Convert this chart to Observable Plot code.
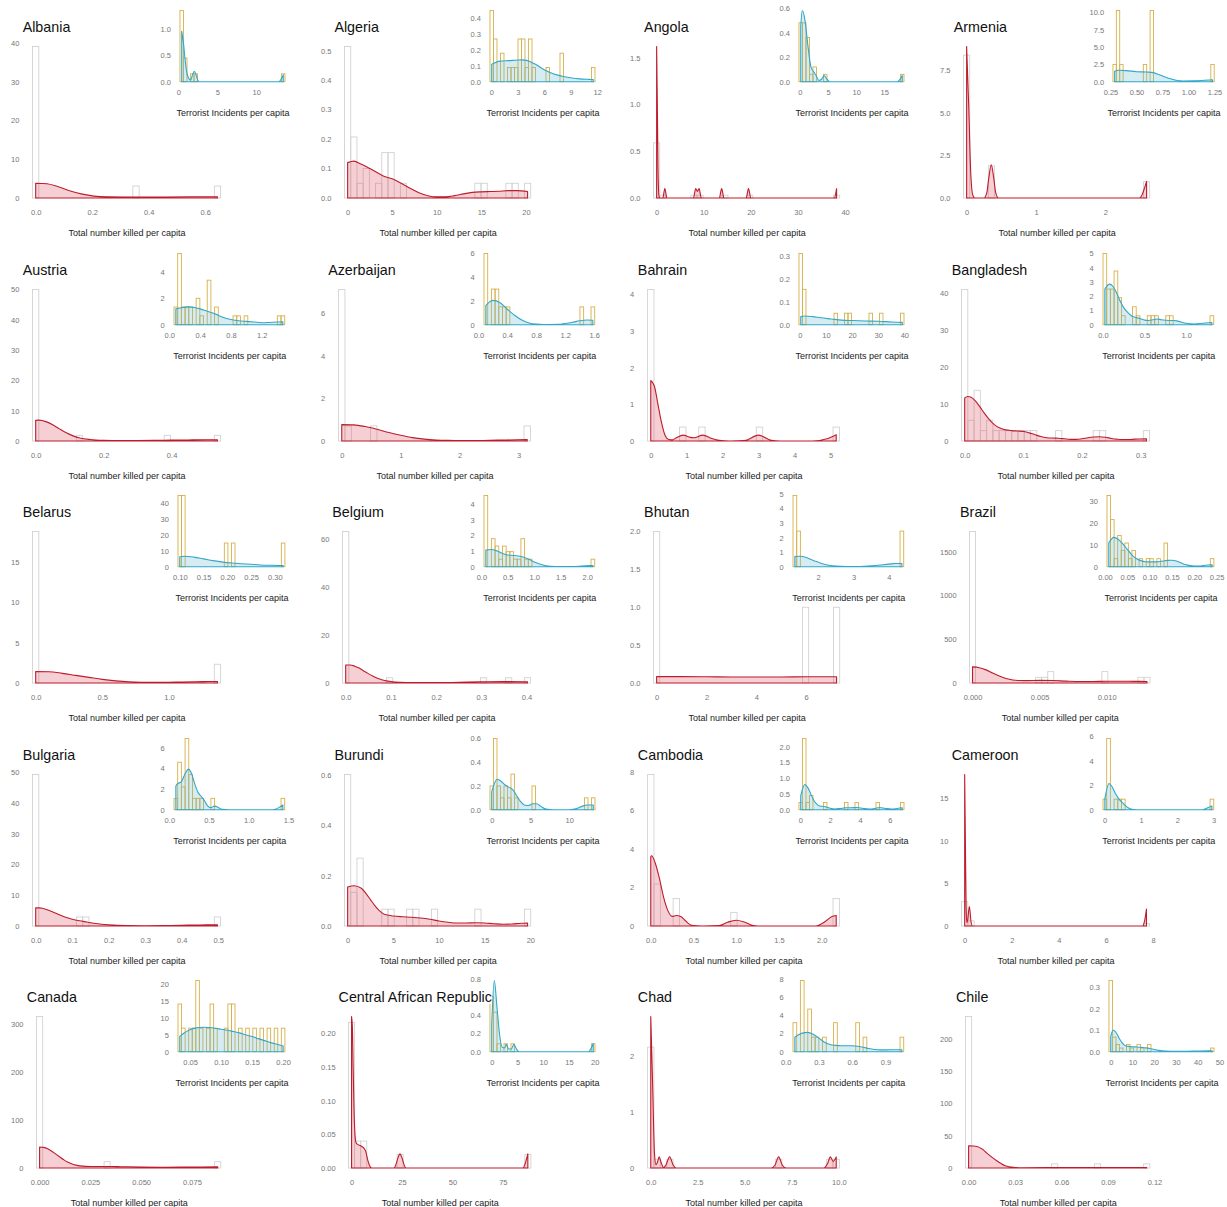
<!DOCTYPE html>
<html>
<head>
<meta charset="utf-8">
<script src="https://cdn.jsdelivr.net/npm/d3@7"></script>
<script src="https://cdn.jsdelivr.net/npm/@observablehq/plot@0.6"></script>
<style>
  html, body { margin: 0; padding: 0; background: white; overflow: hidden; }
  #root { position: relative; width: 1227px; height: 1207px; overflow: hidden; font-family: "Liberation Sans", Arial, sans-serif; }
  .panel { position: absolute; width: 310px; height: 243px; }
  .panel svg { position: absolute; left: 0; top: 0; }
  .ttl { position: absolute; font-size: 14.3px; line-height: 1; white-space: nowrap; color: #111; background: white; z-index: 5; }
</style>
</head>
<body>
<div id="root"></div>
<script>
const countries = ["Albania","Algeria","Angola","Armenia","Austria","Azerbaijan","Bahrain","Bangladesh","Belarus","Belgium","Bhutan","Brazil","Bulgaria","Burundi","Cambodia","Cameroon","Canada","Central African Republic","Chad","Chile"];

// ---- Total number killed per capita (main histograms) ----
const killedRange = [[0,0.6435],[0,20.19],[0,38.2],[0,2.594],[0,0.535],[0,3.146],[0,5.16],[0,0.31],[0,1.364],[0,0.402],[0,7.22],[0,0.013],[0,0.498],[0,19.7],[0,2.17],[0,7.72],[0,0.0877],[0,87.4],[0,9.86],[0,0.115]];

const killedBars = [
  [[0,39.1],[16,3.1],[29,3.1]],
  [[0,0.514],[1,0.207],[2,0.05],[3,0.1],[5,0.05],[6,0.154],[7,0.154],[9,0.05],[21,0.05],[22,0.05],[26,0.05],[27,0.05],[29,0.05]],
  [[0,0.59],[1,0.03],[6,0.03],[7,0.03],[11,0.03],[15,0.03],[29,0.03]],
  [[0,8.39],[4,1.89],[29,0.96]],
  [[0,50],[7,1.87],[21,1.87],[29,1.87]],
  [[0,7.13],[1,0.71],[5,0.71],[29,0.71]],
  [[0,4.13],[5,0.38],[8,0.38],[17,0.38],[29,0.38]],
  [[0,40.9],[1,5.6],[2,13.7],[3,2.8],[4,5.6],[5,2.8],[6,2.8],[7,2.8],[8,2.8],[9,2.8],[10,2.8],[11,2.8],[15,2.8],[21,2.8],[22,2.8],[29,2.8]],
  [[0,18.8],[29,2.33]],
  [[0,63],[7,2.2],[22,2.2],[26,2.2],[29,2.2]],
  [[0,2.0],[24,1.0],[29,1.0]],
  [[0,1730],[11,65],[12,65],[13,130],[22,130],[28,65],[29,65]],
  [[0,49.2],[7,2.94],[8,2.94],[29,2.94]],
  [[0,0.603],[1,0.134],[2,0.27],[6,0.067],[7,0.067],[10,0.067],[11,0.067],[14,0.067],[21,0.067],[29,0.067]],
  [[0,7.87],[1,2.18],[4,1.43],[13,0.71],[29,1.43]],
  [[0,2.86],[1,0.6],[29,0.28]],
  [[0,316],[11,13.2],[29,13.2]],
  [[0,0.216],[1,0.04],[2,0.04],[8,0.02],[29,0.02]],
  [[0,2.17],[1,0.157],[3,0.157],[20,0.157],[28,0.157],[29,0.157]],
  [[0,235],[14,6.5],[21,6.5],[29,6.5]]
];

const killedDensity = [
  [[0,3.8],[0.04,3.7],[0.08,2.9],[0.12,1.9],[0.165,1.0],[0.206,0.5],[0.25,0.3],[0.35,0.27],[0.46,0.28],[0.58,0.32],[0.6435,0.33]],
  [[0,0.12],[0.7,0.125],[1.5,0.115],[2.5,0.1],[4,0.075],[5,0.065],[6,0.05],[7,0.033],[8,0.018],[9,0.008],[10,0.004],[11,0.004],[12,0.008],[13,0.014],[14,0.019],[15,0.021],[16,0.022],[17,0.023],[18,0.025],[19,0.025],[20.19,0.022]],
  [[0,1.62],[0.15,1.0],[0.3,0.3],[0.5,0.02],[0.7,0],[1.3,0],[1.74,0.1],[2.2,0],[7.8,0],[8.3,0.1],[8.65,0.07],[9.0,0.1],[9.5,0],[13.3,0],[13.8,0.1],[14.3,0],[19.0,0],[19.5,0.1],[20.0,0],[37.7,0],[38.2,0.1]],
  [[0,8.9],[0.03,5.4],[0.06,1.4],[0.09,0.15],[0.12,0],[0.25,0],[0.29,0.3],[0.32,1.2],[0.355,1.95],[0.39,1.2],[0.42,0.3],[0.46,0],[2.49,0],[2.53,0.2],[2.565,0.6],[2.594,0.97]],
  [[0,6.8],[0.01,6.9],[0.03,6.4],[0.05,5.4],[0.07,4.0],[0.09,2.7],[0.11,1.7],[0.13,1.0],[0.16,0.5],[0.2,0.25],[0.25,0.18],[0.3,0.18],[0.35,0.22],[0.4,0.3],[0.45,0.36],[0.5,0.4],[0.535,0.4]],
  [[0,0.77],[0.2,0.76],[0.4,0.68],[0.6,0.55],[0.8,0.4],[1.0,0.27],[1.2,0.16],[1.4,0.09],[1.6,0.05],[1.8,0.03],[2.0,0.02],[2.4,0.025],[2.8,0.05],[3.146,0.07]],
  [[0,1.65],[0.1,1.5],[0.2,1.0],[0.3,0.5],[0.4,0.15],[0.5,0.04],[0.6,0.03],[0.7,0.08],[0.9,0.16],[1.1,0.1],[1.2,0.09],[1.45,0.16],[1.7,0.07],[1.9,0.02],[2.2,0],[2.6,0.01],[3.0,0.16],[3.35,0.02],[3.6,0],[4.5,0],[4.9,0.06],[5.16,0.17]],
  [[0,11.6],[0.005,12.0],[0.01,11.9],[0.02,10.5],[0.03,8.3],[0.04,6.2],[0.05,4.5],[0.06,3.5],[0.07,3.0],[0.08,2.8],[0.09,2.7],[0.1,2.6],[0.11,2.2],[0.12,1.7],[0.13,1.2],[0.14,0.9],[0.15,0.8],[0.16,0.75],[0.17,0.6],[0.18,0.45],[0.19,0.45],[0.2,0.6],[0.21,0.9],[0.22,1.1],[0.23,1.15],[0.24,1.0],[0.25,0.7],[0.26,0.5],[0.27,0.4],[0.28,0.4],[0.29,0.5],[0.31,0.6]],
  [[0,1.42],[0.1,1.4],[0.2,1.2],[0.3,0.95],[0.4,0.7],[0.5,0.45],[0.6,0.27],[0.7,0.15],[0.8,0.1],[0.9,0.08],[1.0,0.1],[1.1,0.13],[1.2,0.16],[1.3,0.18],[1.364,0.19]],
  [[0,7.5],[0.01,7.5],[0.02,7.0],[0.03,6.2],[0.04,5.0],[0.05,3.9],[0.06,2.9],[0.07,2.0],[0.08,1.4],[0.09,0.9],[0.1,0.6],[0.12,0.3],[0.15,0.15],[0.2,0.15],[0.25,0.3],[0.3,0.5],[0.35,0.6],[0.402,0.5]],
  [[0,0.085],[1,0.085],[2,0.083],[3,0.08],[4,0.079],[5,0.08],[6,0.082],[7.22,0.083]],
  [[0,184],[0.0005,175],[0.001,150],[0.0015,115],[0.002,80],[0.0025,52],[0.003,35],[0.0035,28],[0.004,27],[0.005,30],[0.006,28],[0.007,22],[0.008,18],[0.009,18],[0.01,20],[0.011,20],[0.012,19],[0.013,18]],
  [[0,5.9],[0.01,5.9],[0.02,5.7],[0.04,4.9],[0.06,3.9],[0.08,2.9],[0.1,2.2],[0.12,1.7],[0.14,1.3],[0.16,0.9],[0.18,0.6],[0.2,0.4],[0.25,0.15],[0.3,0.1],[0.35,0.15],[0.4,0.25],[0.45,0.35],[0.498,0.4]],
  [[0,0.155],[0.7,0.16],[1.5,0.15],[2,0.13],[2.5,0.105],[3,0.08],[3.5,0.06],[4,0.047],[5,0.04],[6,0.037],[7,0.035],[8,0.032],[9,0.027],[10,0.02],[11,0.015],[12,0.012],[13,0.012],[14,0.013],[15,0.012],[16,0.009],[17,0.007],[18,0.008],[19,0.011],[19.7,0.012]],
  [[0,3.6],[0.01,3.65],[0.05,3.3],[0.1,2.5],[0.15,1.5],[0.2,0.8],[0.25,0.5],[0.3,0.55],[0.35,0.5],[0.4,0.3],[0.45,0.1],[0.5,0.02],[0.6,0],[0.8,0.02],[0.9,0.2],[1.0,0.3],[1.1,0.2],[1.2,0.03],[1.3,0],[1.93,0],[2.03,0.2],[2.12,0.5],[2.17,0.55]],
  [[0,17.8],[0.03,10],[0.06,2.5],[0.09,0.4],[0.12,0.6],[0.2,2.3],[0.27,0.5],[0.33,0],[7.55,0],[7.64,0.6],[7.72,2.0]],
  [[0,43.75],[0.002,43],[0.004,40],[0.006,35],[0.008,29],[0.01,23],[0.012,17],[0.014,12],[0.016,8.5],[0.018,6],[0.02,4.5],[0.025,3.2],[0.03,3.3],[0.035,3.2],[0.04,2.8],[0.05,2.0],[0.06,1.7],[0.07,1.8],[0.08,2.2],[0.0877,2.4]],
  [[0,0.225],[0.4,0.21],[0.8,0.15],[1.2,0.09],[1.6,0.055],[2.2,0.038],[3,0.035],[4.5,0.033],[6,0.03],[7,0.025],[8,0.012],[9,0.003],[10,0],[21,0],[22,0.005],[23,0.015],[24,0.021],[25,0.015],[26,0.005],[27,0],[85,0],[86,0.006],[87.4,0.021]],
  [[0,2.72],[0.1,1.5],[0.2,0.25],[0.28,0.06],[0.35,0.1],[0.45,0.2],[0.55,0.1],[0.68,0.01],[0.8,0.05],[1.0,0.2],[1.2,0.05],[1.35,0],[6.4,0],[6.6,0.05],[6.8,0.2],[7.0,0.05],[7.2,0],[9.2,0],[9.4,0.08],[9.55,0.2],[9.7,0.12],[9.86,0.2]],
  [[0,34.5],[0.0054,33.5],[0.009,29],[0.0118,23.2],[0.015,17],[0.0182,11.3],[0.021,7],[0.0236,3.6],[0.0289,1.0],[0.035,0.5],[0.05,0.6],[0.07,0.8],[0.09,0.9],[0.105,0.9],[0.115,0.9]]
];

const killedTicksX = [[0,0.2,0.4,0.6],[0,5,10,15,20],[0,10,20,30,40],[0,1,2],[0,0.2,0.4],[0,1,2,3],[0,1,2,3,4,5],[0,0.1,0.2,0.3],[0,0.5,1.0],[0,0.1,0.2,0.3,0.4],[0,2,4,6],[0,0.005,0.010],[0,0.1,0.2,0.3,0.4,0.5],[0,5,10,15,20],[0,0.5,1,1.5,2],[0,2,4,6,8],[0,0.025,0.05,0.075],[0,25,50,75],[0,2.5,5,7.5,10],[0,0.03,0.06,0.09,0.12]];
const killedTicksY = [[0,10,20,30,40],[0,0.1,0.2,0.3,0.4,0.5],[0,0.5,1,1.5],[0,2.5,5,7.5],[0,10,20,30,40,50],[0,2,4,6],[0,1,2,3,4],[0,10,20,30,40],[0,5,10,15],[0,20,40,60],[0,0.5,1,1.5,2],[0,500,1000,1500],[0,10,20,30,40,50],[0,0.2,0.4,0.6],[0,2,4,6,8],[0,5,10,15],[0,100,200,300],[0,0.05,0.1,0.15,0.2],[0,1,2],[0,50,100,150,200]];

// ---- Terrorist Incidents per capita (insets) ----
const incidentsRange = [[0.45,13.47],[0.05,11.55],[0.14,18.2],[0.29,1.231],[0.085,1.474],[0.103,1.583],[0.37,39.2],[0.024,1.307],[0.10,0.3175],[0.085,2.107],[1.344,4.367],[0.0085,0.24],[0.082,1.43],[0,13.1],[0.026,6.83],[0.005,2.95],[0.0335,0.20],[0,19.7],[0.083,1.048],[0,46.7]];

const incidentsBars = [
  [[0,1.354],[1,0.45],[3,0.15],[4,0.15],[29,0.15]],
  [[0,0.45],[1,0.27],[3,0.18],[5,0.09],[6,0.09],[7,0.09],[8,0.27],[9,0.27],[10,0.09],[11,0.27],[12,0.09],[16,0.09],[20,0.18],[29,0.09]],
  [[0,0.48],[1,0.48],[2,0.36],[3,0.06],[4,0.12],[7,0.06],[29,0.06]],
  [[0,2.5],[1,10.3],[2,2.5],[9,2.5],[11,10.3],[29,2.5]],
  [[0,1.34],[1,5.39],[2,1.34],[3,1.34],[4,1.34],[6,2.0],[7,0.67],[9,3.37],[11,1.34],[16,0.67],[17,0.67],[19,0.67],[28,0.67],[29,0.67]],
  [[0,6.0],[2,3.0],[3,3.0],[4,1.5],[5,1.5],[6,1.5],[26,1.5],[29,1.5]],
  [[0,0.31],[1,0.154],[10,0.05],[13,0.05],[14,0.05],[20,0.05],[23,0.05],[29,0.05]],
  [[0,5.0],[1,2.5],[2,2.5],[3,3.77],[4,1.9],[5,0.63],[8,1.26],[9,0.63],[12,0.63],[13,0.63],[14,0.63],[17,0.63],[18,0.63],[29,0.63]],
  [[0,44.8],[1,44.8],[13,14.9],[15,14.9],[29,14.9]],
  [[0,4.55],[2,1.79],[3,1.32],[4,0.48],[5,1.32],[6,0.96],[7,0.96],[8,0.48],[9,0.48],[10,1.79],[11,0.48],[12,0.48],[29,0.48]],
  [[0,4.9],[1,2.45],[29,2.45]],
  [[0,32.8],[1,21.7],[2,3.7],[3,14.4],[4,7.5],[5,10.9],[6,3.7],[7,7.5],[9,3.7],[11,3.7],[12,3.7],[14,3.7],[16,10.9],[29,3.7]],
  [[0,1.1],[1,4.6],[2,2.2],[3,6.9],[4,3.4],[5,1.1],[6,1.1],[7,1.1],[10,1.1],[29,1.1]],
  [[0,0.2],[1,0.6],[2,0.2],[3,0.1],[4,0.2],[5,0.1],[6,0.3],[7,0.1],[12,0.2],[27,0.1],[29,0.1]],
  [[0,0.23],[1,2.26],[2,0.23],[3,0.45],[7,0.23],[13,0.23],[16,0.23],[22,0.23],[29,0.23]],
  [[0,0.86],[1,5.83],[3,0.86],[4,0.86],[5,0.86],[29,0.86]],
  [[0,14.2],[1,7],[3,7],[4,7],[5,21.2],[6,7],[8,7],[9,14.2],[10,7],[13,7],[14,14.2],[15,14.2],[17,7],[19,7],[21,7],[23,7],[25,7],[27,7],[29,7]],
  [[0,0.606],[1,0.433],[2,0.087],[4,0.087],[6,0.087],[29,0.087]],
  [[0,3.2],[2,7.85],[4,4.7],[5,1.6],[6,1.6],[8,1.6],[11,3.2],[17,3.2],[19,1.6],[29,1.6]],
  [[0,0.332],[1,0.068],[2,0.034],[3,0.017],[5,0.034],[6,0.017],[8,0.034],[9,0.017],[11,0.034],[29,0.017]]
];

const incidentsDensity = [
  [[0.45,0.96],[0.7,0.7],[0.86,0.45],[1.05,0.22],[1.29,0.08],[1.6,0.03],[1.85,0.14],[2.06,0.2],[2.3,0.12],[2.5,0.03],[2.7,0],[12.9,0],[13.2,0.05],[13.47,0.13]],
  [[0.05,0.11],[1,0.13],[2,0.133],[3,0.137],[3.5,0.138],[4,0.135],[5,0.11],[6,0.075],[7,0.05],[8,0.035],[9,0.025],[10,0.018],[11,0.015],[11.55,0.014]],
  [[0.14,0.45],[0.42,0.58],[0.9,0.5],[1.4,0.3],[1.96,0.12],[2.45,0.08],[2.87,0.05],[3.36,0.01],[3.85,0.02],[4.3,0.05],[4.8,0.02],[5.3,0],[17.3,0],[17.8,0.02],[18.2,0.05]],
  [[0.29,1.5],[0.33,1.65],[0.4,1.6],[0.5,1.45],[0.6,1.4],[0.65,1.35],[0.72,1.0],[0.8,0.55],[0.88,0.2],[0.95,0.1],[1.05,0.12],[1.15,0.2],[1.231,0.28]],
  [[0.085,1.2],[0.15,1.28],[0.25,1.35],[0.4,1.2],[0.5,1.0],[0.6,0.8],[0.7,0.55],[0.8,0.4],[0.9,0.3],[1.0,0.25],[1.1,0.2],[1.2,0.15],[1.3,0.17],[1.4,0.2],[1.474,0.22]],
  [[0.103,1.6],[0.15,1.9],[0.2,2.05],[0.3,1.85],[0.4,1.3],[0.5,0.8],[0.6,0.4],[0.7,0.15],[0.8,0.05],[0.9,0.02],[1.1,0.03],[1.2,0.1],[1.3,0.2],[1.4,0.33],[1.5,0.4],[1.583,0.38]],
  [[0.37,0.035],[2,0.038],[5,0.035],[8,0.03],[12,0.025],[16,0.02],[20,0.018],[25,0.016],[30,0.015],[35,0.012],[39.2,0.01]],
  [[0.024,2.5],[0.08,2.85],[0.12,2.7],[0.16,2.3],[0.2,1.75],[0.25,1.2],[0.3,0.85],[0.35,0.6],[0.4,0.5],[0.45,0.42],[0.5,0.32],[0.55,0.3],[0.6,0.35],[0.65,0.4],[0.7,0.35],[0.8,0.3],[0.85,0.3],[0.9,0.25],[1.0,0.1],[1.1,0.05],[1.2,0.1],[1.307,0.15]],
  [[0.10,6.3],[0.11,6.6],[0.13,6.0],[0.15,4.9],[0.17,3.8],[0.19,2.9],[0.21,2.3],[0.23,1.9],[0.25,1.5],[0.27,1.1],[0.29,0.9],[0.3175,0.8]],
  [[0.085,1.06],[0.18,1.1],[0.3,1.0],[0.4,0.85],[0.5,0.75],[0.6,0.72],[0.7,0.68],[0.8,0.6],[0.9,0.47],[1.0,0.3],[1.1,0.17],[1.2,0.08],[1.3,0.03],[1.5,0.01],[1.7,0.01],[1.9,0.04],[2.107,0.08]],
  [[1.344,0.7],[1.5,0.72],[1.7,0.6],[1.9,0.4],[2.1,0.22],[2.3,0.1],[2.5,0.04],[2.8,0.01],[3.1,0.01],[3.4,0.04],[3.7,0.1],[4.0,0.18],[4.2,0.22],[4.367,0.22]],
  [[0.0085,11],[0.02,13.5],[0.03,12.5],[0.04,10.5],[0.05,8.0],[0.06,5.5],[0.07,3.8],[0.08,2.8],[0.09,2.3],[0.1,2.2],[0.11,2.2],[0.12,2.3],[0.13,2.6],[0.14,2.9],[0.15,3.0],[0.16,2.6],[0.17,1.8],[0.18,1.0],[0.19,0.5],[0.2,0.3],[0.21,0.3],[0.22,0.5],[0.23,0.8],[0.24,0.9]],
  [[0.082,2.3],[0.1,2.5],[0.15,2.7],[0.2,3.5],[0.24,3.93],[0.28,3.5],[0.32,2.5],[0.36,1.7],[0.4,1.3],[0.44,0.9],[0.48,0.4],[0.52,0.2],[0.57,0.35],[0.62,0.2],[0.67,0.03],[0.75,0],[1.3,0],[1.38,0.2],[1.43,0.45]],
  [[0,0.152],[0.7,0.256],[1.2,0.24],[1.7,0.21],[2.2,0.19],[2.7,0.17],[3.2,0.12],[3.7,0.07],[4.2,0.04],[4.7,0.035],[5.3,0.05],[5.8,0.05],[6.3,0.03],[7,0.005],[8,0],[10,0],[11,0.01],[11.7,0.03],[12.3,0.04],[13.1,0.04]],
  [[0.026,0.45],[0.3,0.8],[0.5,0.7],[0.7,0.5],[0.9,0.3],[1.1,0.18],[1.3,0.12],[1.6,0.1],[1.9,0.06],[2.3,0.02],[2.7,0.04],[3.0,0.06],[3.4,0.06],[3.8,0.07],[4.2,0.04],[4.6,0.02],[5.0,0.04],[5.3,0.07],[5.7,0.04],[6.1,0.02],[6.5,0.04],[6.83,0.06]],
  [[0.005,0.9],[0.12,2.15],[0.2,1.9],[0.3,1.3],[0.4,0.85],[0.5,0.55],[0.6,0.25],[0.7,0.08],[0.8,0.01],[0.9,0],[2.7,0],[2.8,0.1],[2.9,0.25],[2.95,0.3]],
  [[0.0335,4.55],[0.04,5.5],[0.05,6.5],[0.06,7.1],[0.07,7.3],[0.08,7.2],[0.09,7.0],[0.1,6.7],[0.11,6.4],[0.12,6.0],[0.13,5.6],[0.14,5.0],[0.15,4.5],[0.16,3.9],[0.17,3.3],[0.18,2.7],[0.19,2.2],[0.2,1.7]],
  [[0,0.3],[0.5,0.78],[1.0,0.5],[1.5,0.2],[2.0,0.05],[2.5,0.04],[2.8,0.08],[3.3,0.03],[3.8,0.03],[4.3,0.08],[4.8,0.03],[5.3,0],[18.8,0],[19.3,0.04],[19.7,0.09]],
  [[0.083,1.6],[0.12,1.9],[0.17,2.1],[0.2,2.13],[0.25,1.9],[0.3,1.5],[0.35,1.05],[0.4,0.8],[0.45,0.7],[0.5,0.65],[0.6,0.65],[0.65,0.6],[0.7,0.5],[0.75,0.35],[0.8,0.25],[0.85,0.2],[0.9,0.2],[1.0,0.22],[1.048,0.22]],
  [[0,0.07],[1,0.1],[2,0.095],[3,0.08],[4,0.06],[5,0.045],[6,0.033],[7,0.027],[8,0.025],[10,0.023],[12,0.022],[14,0.02],[16,0.018],[18,0.015],[20,0.01],[22,0.006],[25,0.003],[30,0.002],[35,0.002],[40,0.003],[45,0.004],[46.7,0.004]]
];

const incidentsTicksX = [[0,5,10],[0,3,6,9,12],[0,5,10,15],[0.25,0.5,0.75,1,1.25],[0,0.4,0.8,1.2],[0,0.4,0.8,1.2,1.6],[0,10,20,30,40],[0,0.5,1],[0.1,0.15,0.2,0.25,0.3],[0,0.5,1,1.5,2],[2,3,4],[0,0.05,0.1,0.15,0.2,0.25],[0,0.5,1,1.5],[0,5,10],[0,2,4,6],[0,1,2,3],[0.05,0.1,0.15,0.2],[0,5,10,15,20],[0,0.3,0.6,0.9],[0,10,20,30,40,50]];
// Central African Republic: the 0.6 label is hidden under the title in the reference
const incidentsTicksY = [[0,0.5,1],[0,0.1,0.2,0.3,0.4],[0,0.2,0.4,0.6],[0,2.5,5,7.5,10],[0,2,4],[0,2,4,6],[0,0.1,0.2,0.3],[0,1,2,3,4,5],[0,10,20,30,40],[0,1,2,3,4],[0,1,2,3,4,5],[0,10,20,30],[0,2,4,6],[0,0.2,0.4,0.6],[0,0.5,1,1.5,2],[0,2,4,6],[0,5,10,15,20],[0,0.2,0.4,0.8],[0,2,4,6,8],[0,0.1,0.2,0.3]];
// label-width reference ticks (all ticks incl. hidden ones) for the inset axis gutter
const incidentsTicksYAll = incidentsTicksY.map((t, k) => k === 17 ? [0,0.2,0.4,0.6,0.8] : t);

const killedLabel = "Total number killed per capita";
const incidentsLabel = "Terrorist Incidents per capita";

// ---- layout ----
const W = 310, H = 243, nCols = 4, colStep = 309.7, rowStep = 242.5;
const tickFont = 7.5;
const FONT = "'Liberation Sans', Arial, sans-serif";
const ctx = document.createElement("canvas").getContext("2d");
ctx.font = `${tickFont}px 'Liberation Sans'`;
const textW = s => ctx.measureText(s).width;

function decimals(v) {
  for (let k = 0; k < 6; k++) { const s = v * Math.pow(10, k); if (Math.abs(Math.round(s) - s) < 1e-6) return k; }
  return 6;
}
function fmtFor(ticks) { return d3.format(`.${d3.max(ticks, decimals)}f`); }

function histPlot({range, bars, dens, tx, ty, tyAll, labelLeft, right, top, bottom, barStroke, lineStroke, areaFill, label, labelDy}) {
  const [x0, x1] = range;
  const w = (x1 - x0) / 29;
  const bins = d3.range(30).map(i => ({a: x0 + (i - 0.5) * w, b: x0 + (i + 0.5) * w, h: 0}));
  bars.forEach(([i, h]) => { bins[i].h = h; });
  const lo = x0 - w / 2, hi = x1 + w / 2, r = hi - lo;
  const M = Math.max(d3.max(bins, d => d.h), d3.max(dens, d => d[1]));
  const fx = fmtFor(tx), fy = fmtFor(tyAll || ty);
  const ml = labelLeft + d3.max(tyAll || ty, t => textW(fy(t))) + 4.3;
  const svg = Plot.plot({
    width: W, height: H,
    marginLeft: ml, marginRight: W - right, marginTop: top, marginBottom: H - bottom,
    x: {domain: [lo - 0.05 * r, hi + 0.05 * r]},
    y: {domain: [-0.05 * M, 1.05 * M]},
    style: {fontFamily: FONT, background: "transparent", overflow: "visible"},
    marks: [
      Plot.rect(bins.filter(d => d.h > 0), {x1: "a", x2: "b", y1: 0, y2: "h", fill: "none", stroke: barStroke, strokeWidth: 0.9}),
      Plot.areaY(dens, {x: d => d[0], y: d => d[1], fill: areaFill, fillOpacity: 0.25, stroke: lineStroke, strokeWidth: 1.1, curve: "monotone-x"}),
      Plot.axisX({ticks: tx, tickFormat: fx, tickSize: 0, tickPadding: 4, fontSize: tickFont, color: "#777", label: null}),
      Plot.axisY({ticks: ty, tickFormat: fy, tickSize: 0, tickPadding: 4.3, fontSize: tickFont, color: "#777", label: null}),
      Plot.text([label], {frameAnchor: "bottom", dy: labelDy, text: d => d, fontSize: 9, fill: "#222", lineAnchor: "middle"})
    ]
  });
  return {svg, ml};
}

const root = document.getElementById("root");
countries.forEach((name, k) => {
  const col = k % nCols, row = Math.floor(k / nCols);
  const panel = document.createElement("div");
  panel.className = "panel";
  panel.style.left = (col * colStep) + "px";
  panel.style.top = (row * rowStep) + "px";

  const main = histPlot({
    range: killedRange[k], bars: killedBars[k], dens: killedDensity[k],
    tx: killedTicksX[k], ty: killedTicksY[k],
    labelLeft: 10.5, right: 230, top: 38.9, bottom: 205.6,
    barStroke: "#d2d2d2", lineStroke: "#bd1c2c", areaFill: "#d6404e",
    label: killedLabel, labelDy: 26.7
  });
  const inset = histPlot({
    range: incidentsRange[k], bars: incidentsBars[k], dens: incidentsDensity[k],
    tx: incidentsTicksX[k], ty: incidentsTicksY[k], tyAll: incidentsTicksYAll[k],
    labelLeft: 160, right: 290.25, top: 6.94, bottom: 85.26,
    barStroke: "#d8b04a", lineStroke: "#33a7c8", areaFill: "#58b4cf",
    label: incidentsLabel, labelDy: 27
  });
  panel.appendChild(main.svg);
  panel.appendChild(inset.svg);

  const t = document.createElement("div");
  t.className = "ttl";
  t.textContent = name;
  t.style.left = (main.ml - 0.5) + "px";
  t.style.top = "20.2px";
  panel.appendChild(t);
  root.appendChild(panel);
});
</script>
</body>
</html>
